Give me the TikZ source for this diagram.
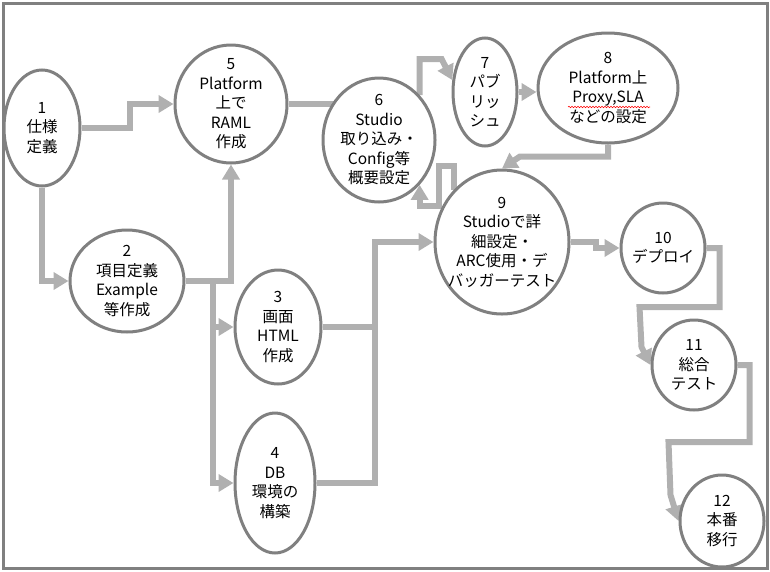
\documentclass[tikz,border=0pt]{standalone}
\usepackage{fontspec}
\setmainfont{Noto Sans CJK JP}
\usepackage{tikz}
\usetikzlibrary{shapes, arrows.meta, positioning, backgrounds, decorations.pathmorphing}
\usepackage{xcolor}
\definecolor{rim}{RGB}{128,128,128}
\definecolor{pipe}{RGB}{176,176,176}

\begin{document}
\begin{tikzpicture}[x=1pt,y=-1pt,font=\fontsize{15.5}{19.5}\selectfont,
    phase/.style={ellipse, draw=rim, line width=3pt, fill=white, inner sep=0pt},
    tasktext/.style={align=center, inner sep=0pt},
    flow/.style={draw=pipe, line width=6pt, -{Triangle[width=17pt,length=15pt]}}]

\useasboundingbox (0,0) rectangle (770,571);
\draw[rim, line width=3pt] (3,3) rectangle (767,568);

\node[phase, minimum width=76pt, minimum height=116pt,
    label={[tasktext]center:{1\\仕様\\定義}}] (task1) at (42,128) {};
\node[phase, minimum width=114pt, minimum height=102pt,
    label={[tasktext]center:{2\\項目定義\\Example\\等作成}}] (task2) at (127,281) {};
\node[phase, minimum width=86pt, minimum height=114pt,
    label={[tasktext]center:{3\\画面\\HTML\\作成}}] (task3) at (278,327) {};
\node[phase, minimum width=80pt, minimum height=140pt,
    label={[tasktext]center:{4\\DB\\環境の\\構築}}] (task4) at (275,483) {};
\node[phase, minimum width=112pt, minimum height=118pt,
    label={[tasktext]center:{5\\Platform\\上で\\RAML\\作成}}] (task5) at (231,104) {};
\node[phase, minimum width=112pt, minimum height=124pt,
    label={[tasktext]center:{6\\Studio\\取り込み・\\Config等\\概要設定}}] (task6) at (379,140) {};
\node[phase, minimum width=64pt, minimum height=108pt,
    label={[tasktext]center:{7\\パブ\\リッ\\シュ}}] (task7) at (485,92) {};
\node[phase, minimum width=140pt, minimum height=110pt,
    label={[tasktext]center:{8\\Platform上\\Proxy,SLA\\などの設定}}] (task8) at (608,88) {};
\node[phase, minimum width=134pt, minimum height=144pt,
    label={[tasktext]center:{9\\Studioで詳\\細設定・\\ARC使用・デ\\バッガーテスト}}] (task9) at (502,242) {};
\node[phase, minimum width=84pt, minimum height=90pt,
    label={[tasktext]center:{10\\デプロイ}}] (task10) at (663,248) {};
\node[phase, minimum width=84pt, minimum height=90pt,
    label={[tasktext]center:{11\\総合\\テスト}}] (task11) at (694,365) {};
\node[phase, minimum width=84pt, minimum height=92pt,
    label={[tasktext]center:{12\\本番\\移行}}] (task12) at (722,521) {};

% spell-check mark under Proxy,SLA
\draw[red, line width=0.6pt, decorate, decoration={snake, amplitude=0.7pt, segment length=3pt}]
    ([shift={(-40,19)}]task8.center) -- ([shift={(42,19)}]task8.center);

\begin{scope}[on background layer]
\coordinate (join) at (375,327);
\draw[flow] (task1.east) -- ++(48,0) |- (task5);
\draw[flow] (task1.south) |- (task2);
\draw[flow] (task2.east) -| (task5);
\draw[flow] (task2.east) -- ++(27,0) |- (task3);
\draw[flow] (task2.east) -- ++(27,0) |- (task4);
\draw[flow] (task3.east) -- (join) |- (task9);
\draw[flow,-] (task4.east) -| (join);
\draw[flow,-] (task5.east) -- (task5.east -| task6.center);
\draw[flow] (task6.north east) -- ++(0,-36) -- ++(22,0) -- (task7.160);
\draw[flow] (task7.east) -- (task7.east -| task8.west);
\draw[flow] (task8.south) -- ++(0,12) -- ++(-88,0) -- (task9.north);
\draw[flow] (task9.north west) -- ++(0,-24) -- ++(-15,0) -- ++(0,40) -| (task6.south east);
\draw[flow] (task9.east) -- ++(25,0) -- ++(0,6) -- (task10.west);
\draw[flow] (task10.east) -- ++(13,0) -- ++(0,59) -- ++(-80,0) -- ++(2,40) -- (task11.west);
\draw[flow] (task11.east) -- ++(12,0) -- ++(0,77) -- ++(-81,0) -- ++(2,53) -- (task12.west);
\end{scope}

\end{tikzpicture}
\end{document}
